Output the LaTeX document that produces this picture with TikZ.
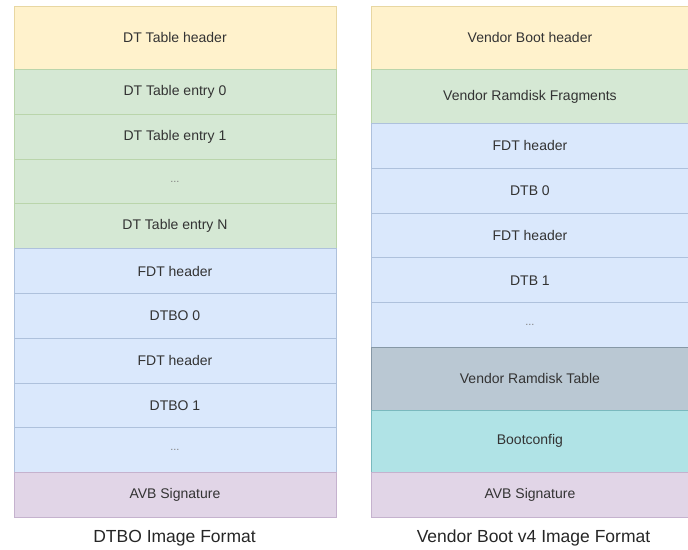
\documentclass[tikz,border=0pt]{standalone}
\usepackage{fontspec}
\setmainfont{Liberation Sans}
\usepackage{tikz}
\usetikzlibrary{positioning}
\definecolor{hdrfill}{HTML}{FFF2CC}
\definecolor{hdrline}{HTML}{D6B656}
\definecolor{tblfill}{HTML}{D5E8D4}
\definecolor{tblline}{HTML}{82B366}
\definecolor{fdtfill}{HTML}{DAE8FC}
\definecolor{fdtline}{HTML}{6C8EBF}
\definecolor{avbfill}{HTML}{E1D5E7}
\definecolor{avbline}{HTML}{9673A6}
\definecolor{rdtfill}{HTML}{BAC8D3}
\definecolor{rdtline}{HTML}{23445D}
\definecolor{cfgfill}{HTML}{B0E3E6}
\definecolor{cfgline}{HTML}{0E8088}
\tikzset{
  blk/.style={rectangle, inner sep=0pt, line width=0.9pt, text=black!80,
    font=\fontsize{14}{16}\selectfont, anchor=north west},
  lcol/.style={blk, minimum width=322pt},
  rcol/.style={blk, minimum width=317pt},
  hdr/.style={fill=hdrfill, draw=hdrline!55},
  tbl/.style={fill=tblfill, draw=tblline!55},
  fdt/.style={fill=fdtfill, draw=fdtline!55},
  avb/.style={fill=avbfill, draw=avbline!55},
  rdt/.style={fill=rdtfill, draw=rdtline!55},
  cfg/.style={fill=cfgfill, draw=cfgline!55},
  dots/.style={text=black!50, font=\fontsize{11}{13}\selectfont},
  caption/.style={font=\fontsize{17.5}{20}\selectfont, text=black!85}
}
\begin{document}
\begin{tikzpicture}[x=1pt, y=-1pt]
  \useasboundingbox (0,0) rectangle (688,549);
  % DTBO image
  \node[lcol, hdr, minimum height=63pt] (dthdr) at (13.5,6) {DT Table header};
  \node[lcol, tbl, minimum height=44.8pt] (dte0) at (13.5,69) {DT Table entry 0};
  \node[lcol, tbl, minimum height=44.8pt] (dte1) at (13.5,113.8) {DT Table entry 1};
  \node[lcol, tbl, dots, minimum height=44.8pt] (dtdots) at (13.5,158.6) {...};
  \node[lcol, tbl, minimum height=44.8pt] (dten) at (13.5,203.4) {DT Table entry N};
  \node[lcol, fdt, minimum height=44.8pt] (lfdt0) at (13.5,248.2) {FDT header};
  \node[lcol, fdt, minimum height=44.8pt] (dtbo0) at (13.5,293) {DTBO 0};
  \node[lcol, fdt, minimum height=44.8pt] (lfdt1) at (13.5,337.8) {FDT header};
  \node[lcol, fdt, minimum height=44.8pt] (dtbo1) at (13.5,382.6) {DTBO 1};
  \node[lcol, fdt, dots, minimum height=44.8pt] (dtbodots) at (13.5,427.4) {...};
  \node[lcol, avb, minimum height=44.8pt] (lavb) at (13.5,472.2) {AVB Signature};
  \node[caption] (lcap) at (174.5,538) {DTBO Image Format};

  % vendor boot v4 image
  \node[rcol, hdr, minimum height=63pt] (vbhdr) at (371,6) {Vendor Boot header};
  \node[rcol, tbl, minimum height=54pt] (vfrag) at (371,69) {Vendor Ramdisk Fragments};
  \node[rcol, fdt, minimum height=44.8pt] (rfdt0) at (371,123) {FDT header};
  \node[rcol, fdt, minimum height=44.8pt] (dtb0) at (371,167.8) {DTB 0};
  \node[rcol, fdt, minimum height=44.8pt] (rfdt1) at (371,212.6) {FDT header};
  \node[rcol, fdt, minimum height=44.8pt] (dtb1) at (371,257.4) {DTB 1};
  \node[rcol, fdt, dots, minimum height=44.8pt] (dtbdots) at (371,302.2) {...};
  \node[rcol, rdt, minimum height=62.6pt] (vrdt) at (371,347) {Vendor Ramdisk Table};
  \node[rcol, cfg, minimum height=62.6pt] (bcfg) at (371,409.6) {Bootconfig};
  \node[rcol, avb, minimum height=44.8pt] (ravb) at (371,472.2) {AVB Signature};
  \node[caption] (rcap) at (533.5,538) {Vendor Boot v4 Image Format};
\end{tikzpicture}
\end{document}
